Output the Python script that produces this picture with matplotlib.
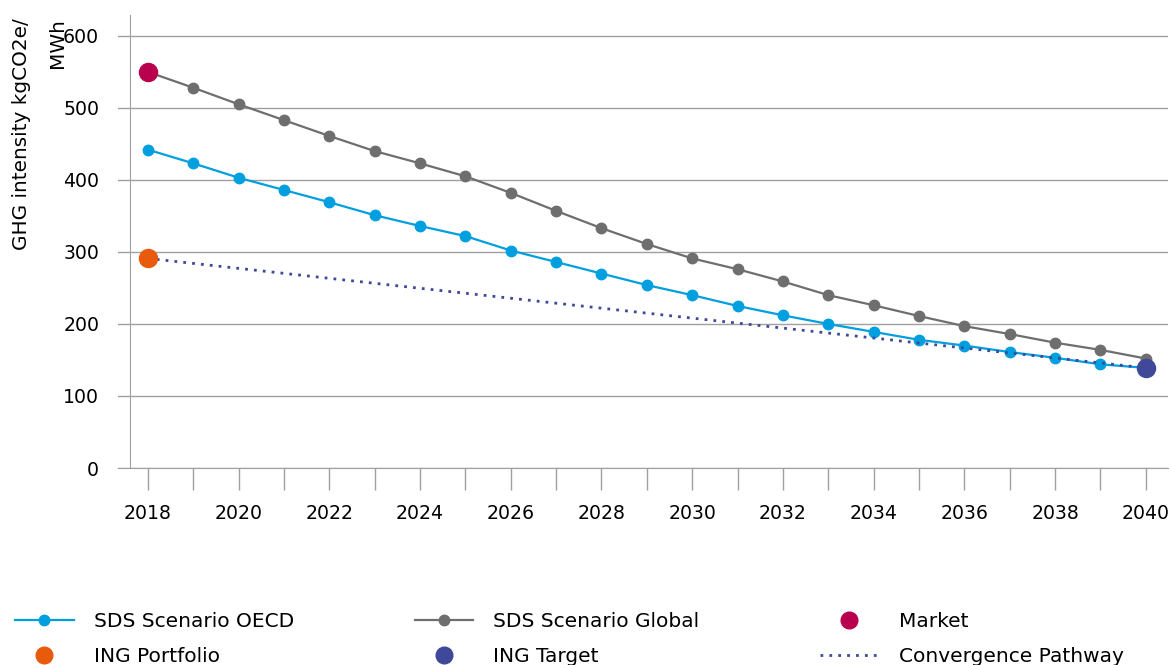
import numpy as np
import matplotlib.pyplot as plt
from matplotlib.ticker import MultipleLocator

years = list(range(2018, 2041))
oecd = [442, 423, 403, 386, 369, 351, 336, 322, 302, 286, 270, 254,
        240, 225, 212, 200, 189, 178, 170, 161, 153, 144, 139]
global_ = [550, 528, 505, 483, 461, 440, 423, 405, 382, 357, 333, 311,
           291, 276, 259, 240, 226, 211, 197, 186, 174, 164, 152]
market_year, market_val = [2018], [550]
portfolio_year, portfolio_val = [2018], [291]
target_year, target_val = [2040], [139]
pathway_years = [2018, 2040]
pathway_vals = [291, 139]

blue = '#009fdf'
grey = '#6e6e6e'
crimson = '#b8004e'
orange = '#e95b0c'
navy = '#3f4899'
axis_grey = '#a0a0a0'

plt.rcParams['font.family'] = 'DejaVu Sans'
plt.rcParams['font.size'] = 13.6

fig = plt.figure(figsize=(11.71, 6.65), dpi=100)
ax = fig.add_axes([118 / 1171, 1 - 468 / 665, 1050 / 1171, 453 / 665])

ax.plot(years, oecd, color=blue, lw=1.6, marker='o', ms=7.5, label='SDS Scenario OECD', zorder=3)
ax.plot(years, global_, color=grey, lw=1.6, marker='o', ms=7.5, label='SDS Scenario Global', zorder=3)
ax.plot(pathway_years, pathway_vals, color=navy, lw=2, ls=(0, (1, 2.2)),
        label='Convergence Pathway', zorder=4)
ax.plot(market_year, market_val, 'o', color=crimson, ms=13, label='Market', zorder=5)
ax.plot(portfolio_year, portfolio_val, 'o', color=orange, ms=13, label='ING Portfolio', zorder=5)
ax.plot(target_year, target_val, 'o', color=navy, ms=13, label='ING Target', zorder=5)

ax.set_xlim(2017.34, 2040.49)
ax.set_ylim(0, 629)
ax.yaxis.set_major_locator(MultipleLocator(100))
ax.xaxis.set_major_locator(MultipleLocator(2))
ax.xaxis.set_minor_locator(MultipleLocator(1))
ax.grid(axis='y', color=axis_grey, lw=1)
ax.set_axisbelow(True)

for s in ['top', 'right']:
    ax.spines[s].set_visible(False)
ax.spines['left'].set_position(('data', 2017.6))
ax.spines['left'].set_color(axis_grey)
ax.spines['bottom'].set_color(axis_grey)
ax.tick_params(axis='y', length=0, pad=22)
ax.tick_params(axis='x', which='both', length=16, color=axis_grey, width=1, pad=10)

fig.text(12 / 1171, 1 - 18 / 665, 'GHG intensity kgCO2e/\nMWh', rotation=90,
         ha='left', va='top', multialignment='right', linespacing=2.1, fontsize=14.4)

h, l = ax.get_legend_handles_labels()
idx = {lab: i for i, lab in enumerate(l)}
order = ['SDS Scenario OECD', 'ING Portfolio', 'SDS Scenario Global', 'ING Target',
         'Market', 'Convergence Pathway']
leg = fig.legend([h[idx[o]] for o in order], order, ncol=3, loc='upper left',
                 bbox_to_anchor=(-3 / 1171, 1 - 594 / 665), frameon=False,
                 fontsize=14.5, handlelength=2.9, handletextpad=1.0, columnspacing=6.0,
                 labelspacing=0.8)
for lh in leg.legend_handles:
    if lh.get_markersize() > 10:
        lh.set_markersize(12)

fig.savefig('out.png', dpi=100)
